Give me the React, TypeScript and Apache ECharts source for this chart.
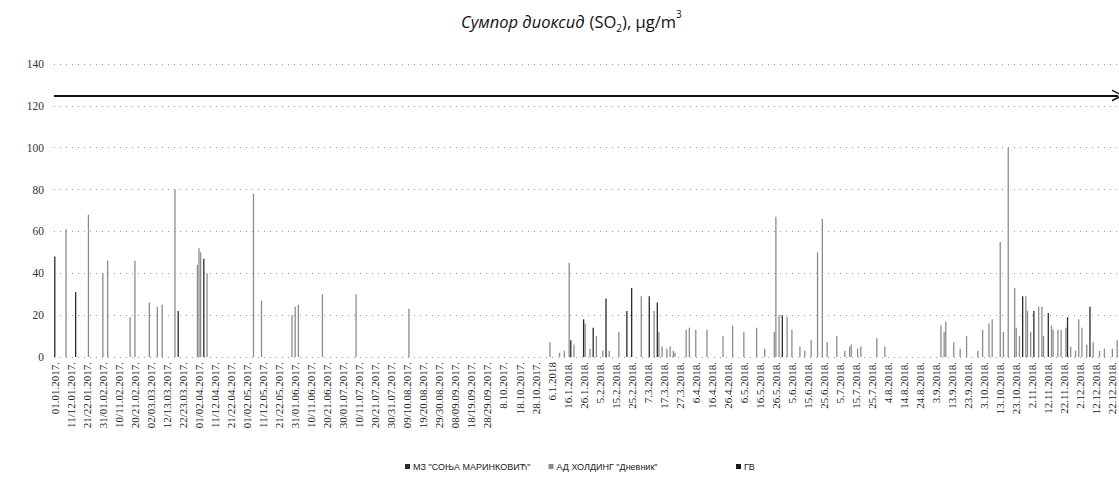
import React, { useEffect, useRef } from "react";
import * as echarts from "echarts";

// Tick labels shown on the category axis (one every 10 categories)
const tickLabels: string[] = [
  "01.01.2017.", "11/12.01.2017.", "21/22.01.2017.", "31/01.02.2017.", "10/11.02.2017.",
  "20/21.02.2017.", "02/03.03.2017.", "12/13.03.2017.", "22/23.03.2017.", "01/02.04.2017.",
  "11/12.04.2017.", "21/22.04.2017.", "01/02.05.2017.", "11/12.05.2017.", "21/22.05.2017.",
  "31/01.06.2017.", "10/11.06.2017.", "20/21.06.2017.", "30/01.07.2017.", "10/11.07.2017.",
  "20/21.07.2017.", "30/31.07.2017.", "09/10.08.2017.", "19/20.08.2017.", "29/30.08.2017.",
  "08/09.09.2017.", "18/19.09.2017.", "28/29.09.2017.", "8.10.2017.", "18.10.2017.",
  "28.10.2017.", "6.1.2018", "16.1.2018.", "26.1.2018.", "5.2.2018.",
  "15.2.2018.", "25.2.2018.", "7.3.2018.", "17.3.2018.", "27.3.2018.",
  "6.4.2018.", "16.4.2018.", "26.4.2018.", "6.5.2018.", "16.5.2018.",
  "26.5.2018.", "5.6.2018.", "15.6.2018.", "25.6.2018.", "5.7.2018.",
  "15.7.2018.", "25.7.2018.", "4.8.2018.", "14.8.2018.", "24.8.2018.",
  "3.9.2018.", "13.9.2018.", "23.9.2018.", "3.10.2018.", "13.10.2018.",
  "23.10.2018.", "2.11.2018.", "12.11.2018.", "22.11.2018.", "2.12.2018.",
  "12.12.2018.", "22.12.2018.",
];
const categoryCount = 664;
const labelStep = 10;

// [category index, value] — МЗ "СОЊА МАРИНКОВИЋ"
const seriesMZ: [number, number][] = [
  [0, 48], [13, 31], [77, 22], [93, 47],
  [322, 8], [330, 18], [336, 14], [344, 28], [357, 22], [360, 33], [371, 29], [376, 26],
  [454, 20], [604, 29], [611, 22], [620, 21], [632, 19], [646, 24],
];

// [category index, value] — АД ХОЛДИНГ "Дневник"
const seriesAD: [number, number][] = [
  [7, 61], [21, 68], [30, 40], [33, 46], [47, 19], [50, 46], [59, 26], [64, 24], [67, 25],
  [75, 80], [89, 44], [90, 52], [91, 50], [95, 40], [124, 78], [129, 27],
  [148, 20], [150, 24], [152, 25], [167, 30], [188, 30], [221, 23],
  [309, 7], [315, 2], [318, 3], [321, 45], [324, 6], [331, 16], [334, 4], [338, 10],
  [342, 3], [346, 3], [352, 12], [366, 29], [374, 22], [377, 12], [379, 5], [382, 4],
  [384, 5], [386, 3], [387, 2], [394, 13], [396, 14], [400, 13], [407, 13],
  [417, 10], [423, 15], [430, 12], [438, 14], [443, 4],
  [449, 12], [450, 67], [452, 20], [457, 19], [460, 13], [465, 5], [468, 3], [472, 8],
  [476, 50], [479, 66], [482, 7], [488, 10], [493, 3], [496, 5], [497, 6], [501, 4],
  [503, 5], [513, 9], [518, 5],
  [553, 15], [555, 12], [556, 17], [561, 7], [565, 4], [569, 10], [576, 3], [579, 13],
  [583, 16], [585, 18], [590, 55], [592, 12], [595, 100], [599, 33], [600, 14], [602, 10],
  [606, 29], [607, 22], [609, 12], [614, 24], [616, 24], [617, 10], [622, 15], [623, 13],
  [626, 13], [628, 13], [631, 14], [634, 5], [637, 3], [639, 18], [641, 14], [644, 6],
  [648, 7], [652, 3], [655, 4], [660, 4], [663, 8],
];

// Limit value (ГВ)
const limitValue = 125;

const yTicks = { min: 0, max: 140, interval: 20 };

const nameMZ = 'МЗ "СОЊА МАРИНКОВИЋ"';
const nameAD = 'АД ХОЛДИНГ "Дневник"';
const nameGV = "ГВ";

export default function App() {
  const ref = useRef<HTMLDivElement>(null);

  useEffect(() => {
    if (!ref.current) return;
    const chart = echarts.init(ref.current, null, { renderer: "svg" });

    const categories: string[] = [];
    for (let i = 0; i < categoryCount; i++) {
      const k = i / labelStep;
      categories.push(i % labelStep === 0 && k < tickLabels.length ? tickLabels[k] : "");
    }

    const arrowPath = "path://M0,12 L6,0 L12,12 L10.4,12 L6,3.2 L1.6,12 Z";
    const titleFont = "Open Sans";

    chart.setOption({
      animation: false,
      backgroundColor: "#ffffff",
      title: {
        text: "{i|Сумпор диоксид} {n|(SO}{sub|2}{n|), µg/m}{sup|3}",
        left: 456,
        top: 4,
        textStyle: {
          fontWeight: "normal",
          rich: {
            i: { fontFamily: titleFont, fontStyle: "italic", fontWeight: "normal", fontSize: 16.5, color: "#111", lineHeight: 24 },
            n: { fontFamily: titleFont, fontWeight: "normal", fontSize: 16.5, color: "#111", lineHeight: 24 },
            sub: { fontFamily: titleFont, fontWeight: "normal", fontSize: 10, color: "#111", verticalAlign: "bottom", lineHeight: 24 },
            sup: { fontFamily: titleFont, fontWeight: "normal", fontSize: 10, color: "#111", verticalAlign: "top", lineHeight: 24 },
          },
        },
      },
      legend: [
        {
          data: [nameMZ, nameAD],
          left: 400,
          top: 457,
          itemWidth: 5,
          itemHeight: 5,
          itemGap: 18,
          icon: "rect",
          textStyle: { fontFamily: "Liberation Sans", fontSize: 9, color: "#222", padding: [0, 0, 0, -2] },
        },
        {
          data: [nameGV],
          left: 731,
          top: 457,
          itemWidth: 5,
          itemHeight: 5,
          icon: "rect",
          textStyle: { fontFamily: "Liberation Sans", fontSize: 9, color: "#222", padding: [0, 0, 0, -2] },
        },
      ],
      grid: { left: 54, right: 1, top: 64, bottom: 120, containLabel: false },
      xAxis: {
        type: "category",
        data: categories,
        axisLine: { show: false },
        axisTick: { show: false },
        splitLine: { show: false },
        axisLabel: {
          interval: labelStep - 1,
          rotate: 90,
          margin: 5,
          fontFamily: "Liberation Serif",
          fontSize: 11,
          color: "#1a1a1a",
        },
      },
      yAxis: {
        type: "value",
        min: yTicks.min,
        max: yTicks.max,
        interval: yTicks.interval,
        axisLine: { show: false },
        axisTick: { show: false },
        axisLabel: {
          margin: 10,
          fontFamily: "Liberation Serif",
          fontSize: 11.5,
          color: "#333",
        },
        splitLine: {
          show: true,
          lineStyle: { color: "#9a9a9a", type: [1, 5], width: 1 },
        },
      },
      series: [
        {
          name: nameAD,
          type: "bar",
          data: seriesAD,
          barWidth: 1.3,
          barGap: "-100%",
          itemStyle: { color: "#8c8c8c" },
          z: 2,
        },
        {
          name: nameMZ,
          type: "bar",
          data: seriesMZ,
          barWidth: 1.3,
          barGap: "-100%",
          itemStyle: { color: "#2a2a2a" },
          z: 3,
        },
        {
          name: nameGV,
          type: "line",
          data: [],
          itemStyle: { color: "#1a1a1a" },
          lineStyle: { color: "#1a1a1a" },
          markLine: {
            silent: true,
            symbol: ["none", arrowPath],
            symbolSize: [12, 12],
            label: { show: false },
            lineStyle: { color: "#111", width: 2, type: "solid" },
            data: [{ yAxis: limitValue }],
          },
        },
      ],
    });

    return () => chart.dispose();
  }, []);

  return (
    <div
      ref={ref}
      style={{ position: "absolute", left: 0, top: 0, width: 1119, height: 477 }}
    />
  );
}
